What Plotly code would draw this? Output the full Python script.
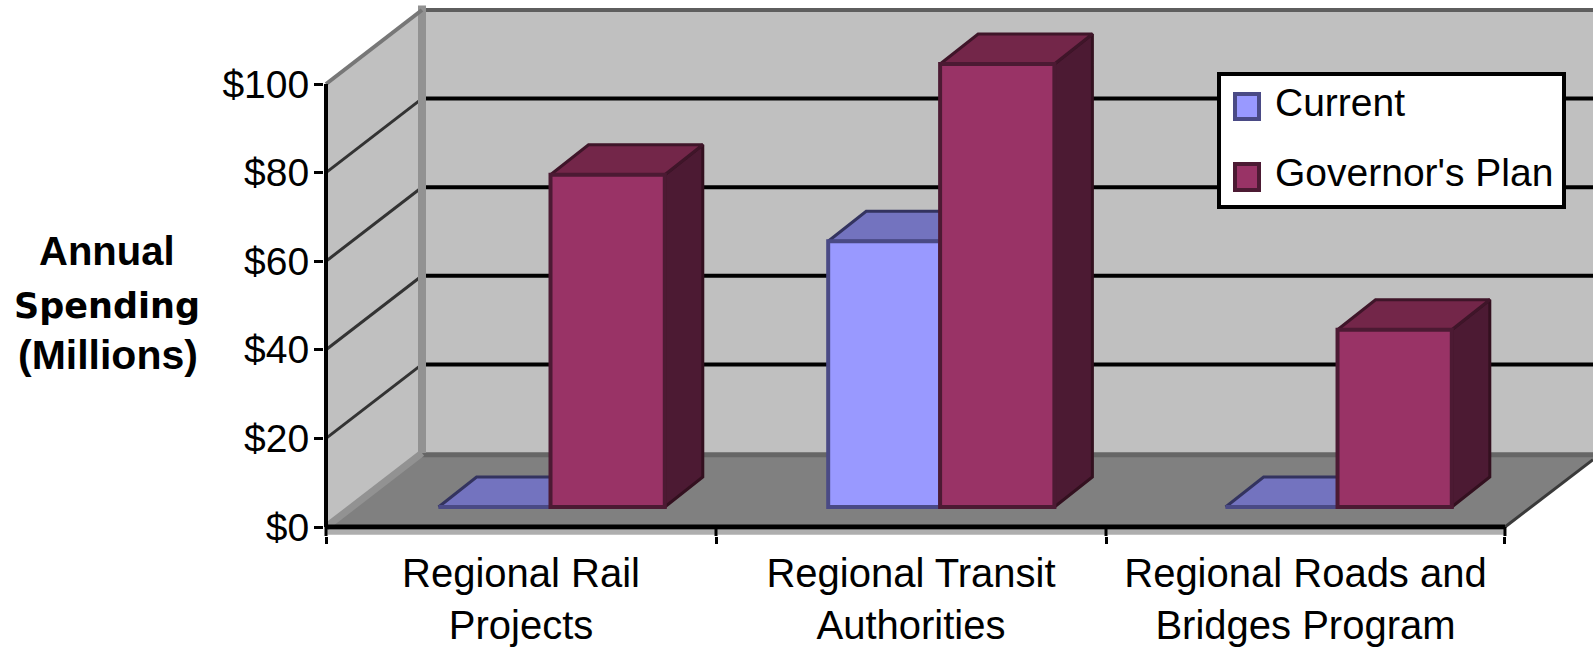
import plotly.graph_objects as go

# Chart values
categories = ["Regional Rail<br>Projects", "Regional Transit<br>Authorities", "Regional Roads and<br>Bridges Program"]
current = [0, 60, 0]
governor = [75, 100, 40]
y_ticks = [0, 20, 40, 60, 80, 100]
y_tick_labels = ["$0", "$20", "$40", "$60", "$80", "$100"]
band_edges = [0, 1, 2, 3.023]
group_centers = [0.509, 1.508, 2.527]

# Page geometry: the $0 / first-band corner, and the plot box just outside it
W, H = 1593, 650
LEFT, BASE = 326, 527
PLOT_L, PLOT_B = 324, 536
BAND_PX, DOLLAR_PX = 390, 4.43
X_MIN, X_MAX = (PLOT_L - LEFT) / BAND_PX, (W - LEFT) / BAND_PX
Y_MIN, Y_MAX = (BASE - PLOT_B) / DOLLAR_PX, BASE / DOLLAR_PX

# Oblique projection offsets, in data units
WALL_X, WALL_Y = 96 / BAND_PX, 74 / DOLLAR_PX
FRONT_X, FRONT_Y = 26 / BAND_PX, 20 / DOLLAR_PX
DEPTH_X, DEPTH_Y = 38 / BAND_PX, 30 / DOLLAR_PX
CUR_W, GOV_W = 0.287, 0.293

FONT = "Liberation Sans"
BLUE, BLUE_TOP, BLUE_SIDE, BLUE_EDGE = "#9999FF", "#7373BF", "#4D4D80", "#4A4A85"
PLUM, PLUM_TOP, PLUM_SIDE, PLUM_EDGE = "#993366", "#732649", "#4C1A33", "#4C1A33"


def poly(xs, ys, fill, line=None, width=0):
    return go.Scatter(x=xs, y=ys, mode="lines", fill="toself", fillcolor=fill,
                      line=dict(color=line or fill, width=width), hoverinfo="skip", showlegend=False)


def seg(xs, ys, color, width):
    return go.Scatter(x=xs, y=ys, mode="lines", line=dict(color=color, width=width),
                      hoverinfo="skip", showlegend=False)


def box_faces(lefts, values, bar_w):
    """Top and right-hand faces of a row of bars, as gap-separated polygons."""
    tx, ty, sx, sy = [], [], [], []
    for x0, v in zip(lefts, values):
        xa, xb = x0 + FRONT_X, x0 + FRONT_X + bar_w
        y1 = v + FRONT_Y
        tx += [xa, xa + DEPTH_X, xb + DEPTH_X, xb, xa, None]
        ty += [y1, y1 + DEPTH_Y, y1 + DEPTH_Y, y1, y1, None]
        sx += [xb, xb + DEPTH_X, xb + DEPTH_X, xb, xb, None]
        sy += [y1, y1 + DEPTH_Y, FRONT_Y + DEPTH_Y, FRONT_Y, y1, None]
    return tx, ty, sx, sy


fig = go.Figure()

# Back wall, side wall and floor
fig.add_trace(poly([WALL_X, X_MAX, X_MAX, WALL_X], [WALL_Y, WALL_Y, 100 + WALL_Y, 100 + WALL_Y], "#C0C0C0"))
fig.add_trace(poly([0, WALL_X, WALL_X, 0], [0, WALL_Y, 100 + WALL_Y, 100], "#C0C0C0"))
floor_end = band_edges[-1]
fig.add_trace(poly([0, WALL_X, X_MAX, X_MAX, floor_end], [0, WALL_Y, WALL_Y, 15.2, 0], "#808080"))

# Gridlines on both walls
for v in y_ticks[1:-1]:
    fig.add_trace(seg([WALL_X, X_MAX], [v + WALL_Y, v + WALL_Y], "#000000", 4))
    fig.add_trace(seg([0, WALL_X], [v, v + WALL_Y], "#333333", 3))

# Wall edges
fig.add_trace(seg([WALL_X, X_MAX], [100 + WALL_Y, 100 + WALL_Y], "#5E5E5E", 4))
fig.add_trace(seg([WALL_X, X_MAX], [WALL_Y - 0.4, WALL_Y - 0.4], "#666666", 5))
fig.add_trace(seg([WALL_X, WALL_X], [WALL_Y, 101 + WALL_Y], "#929292", 8))
fig.add_trace(seg([0, WALL_X], [100, 100 + WALL_Y], "#777777", 4))
fig.add_trace(seg([0, WALL_X], [0, WALL_Y], "#929292", 7))
fig.add_trace(seg([floor_end, X_MAX], [0, 15.2], "#3A3A3A", 3))

# Soft strip beneath the floor edge, the axis lines, and the tick stubs crossing the strip
fig.add_trace(seg([0, floor_end], [-1.2, -1.2], "#AEAEAE", 5))
fig.add_trace(seg([0, floor_end], [0, 0], "#000000", 5))
fig.add_trace(seg([0, 0], [0, 100], "#000000", 4))
for edge in band_edges:
    fig.add_trace(seg([edge, edge], [0, Y_MIN], "#000000", 3))

# Depth faces of the bars
cur_left = [c - CUR_W for c in group_centers]
tx, ty, sx, sy = box_faces(cur_left, current, CUR_W)
fig.add_trace(poly(sx, sy, BLUE_SIDE, "#2E2E5C", 3))
fig.add_trace(poly(tx, ty, BLUE_TOP, "#33335F", 3))
tx, ty, sx, sy = box_faces(group_centers, governor, GOV_W)
fig.add_trace(poly(sx, sy, PLUM_SIDE, "#33101F", 3))
fig.add_trace(poly(tx, ty, PLUM_TOP, "#3F1529", 3))

# Front faces, on an overlaid pair of axes so they sit above the depth faces
fig.add_trace(go.Bar(name="Current", x=[c + FRONT_X for c in cur_left], y=current,
                     base=[FRONT_Y] * 3, width=CUR_W, offset=0, xaxis="x2", yaxis="y2",
                     marker=dict(color=BLUE, line=dict(color=BLUE_EDGE, width=4)), showlegend=False))
fig.add_trace(go.Bar(name="Governor's Plan", x=[c + FRONT_X for c in group_centers], y=governor,
                     base=[FRONT_Y] * 3, width=GOV_W, offset=0, xaxis="x2", yaxis="y2",
                     marker=dict(color=PLUM, line=dict(color=PLUM_EDGE, width=4)), showlegend=False))


def xp(px):
    return (px - PLOT_L) / (W - PLOT_L)


def yp(py):
    return (PLOT_B - py) / PLOT_B


def rect(x0, y0, x1, y1, fill, line, width):
    return dict(type="rect", xref="paper", yref="paper", x0=xp(x0), x1=xp(x1), y0=yp(y0), y1=yp(y1),
                fillcolor=fill, line=dict(color=line, width=width), layer="above")


def text(px, py, s, size, family=FONT, anchor="center"):
    return dict(xref="paper", yref="paper", x=xp(px), y=yp(py), text=s, showarrow=False, xanchor=anchor,
                yanchor="middle", font=dict(family=family, size=size, color="#000000"))


# Legend panel
shapes = [
    rect(1219, 74, 1564, 207, "#FFFFFF", "#000000", 4),
    rect(1235, 94, 1259, 119, BLUE, BLUE_EDGE, 4),
    rect(1235, 164, 1259, 190, PLUM, PLUM_EDGE, 4),
]
annotations = [
    text(1273, 102, "Current", 39, anchor="left"),
    text(1273, 173, "Governor's Plan", 39, anchor="left"),
    text(107, 251, "<b>Annual</b>", 40),
    text(107, 306, "<b>Spending</b>", 35, family="DejaVu Sans"),
    text(108, 355, "<b>(Millions)</b>", 41),
]

midpoints = [(a + b) / 2 for a, b in zip(band_edges[:-1], band_edges[1:])]
fig.update_layout(
    width=W, height=H, autosize=False,
    margin=dict(l=PLOT_L, r=0, t=0, b=H - PLOT_B, pad=0),
    paper_bgcolor="#FFFFFF", plot_bgcolor="#FFFFFF",
    barmode="overlay", showlegend=False, shapes=shapes, annotations=annotations,
    font=dict(family=FONT, size=39, color="#000000"),
    xaxis=dict(range=[X_MIN, X_MAX], showgrid=False, zeroline=False, showline=False,
               tickmode="array", tickvals=band_edges, ticks="outside", ticklen=7, tickwidth=3,
               tickcolor="#000000", showticklabels=False),
    yaxis=dict(range=[Y_MIN, Y_MAX], showgrid=False, zeroline=False, showline=False,
               tickmode="array", tickvals=y_ticks, ticktext=y_tick_labels, ticks="outside",
               ticklen=9, tickwidth=3, tickcolor="#000000", tickfont=dict(family=FONT, size=39),
               ticklabelstandoff=-3),
    xaxis2=dict(range=[X_MIN, X_MAX], overlaying="x", anchor="y2", side="bottom", showgrid=False,
                zeroline=False, showline=False, tickmode="array", tickvals=midpoints, ticktext=categories,
                ticks="", tickfont=dict(family=FONT, size=40), ticklabelstandoff=10),
    yaxis2=dict(range=[Y_MIN, Y_MAX], overlaying="y", anchor="x2", showgrid=False, zeroline=False,
                showline=False, showticklabels=False, ticks=""),
)

fig.write_html("out.html", config=dict(displayModeBar=False))
